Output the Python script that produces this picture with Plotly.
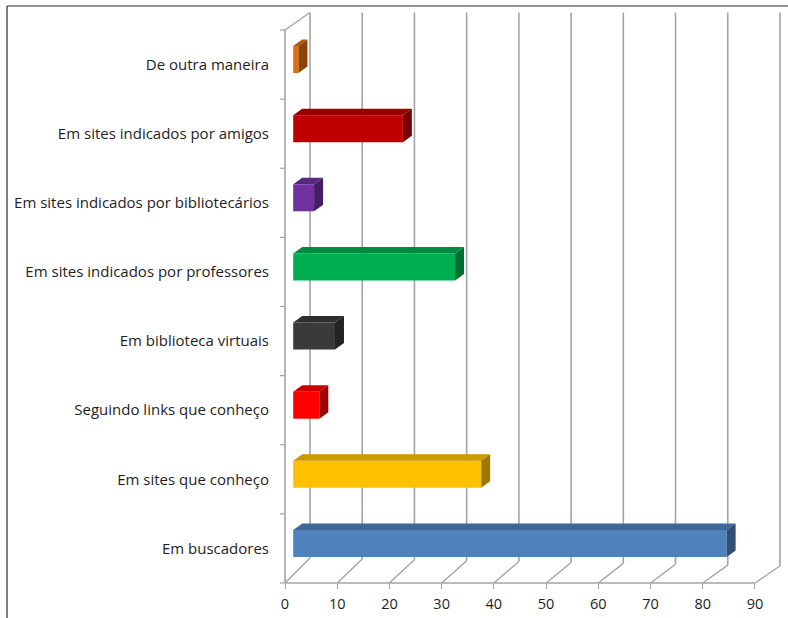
import plotly.graph_objects as go

# Survey answers, listed bottom to top
categories = [
    "Em buscadores",
    "Em sites que conheço",
    "Seguindo links que conheço",
    "Em biblioteca virtuais",
    "Em sites indicados por professores",
    "Em sites indicados por bibliotecários",
    "Em sites indicados por amigos",
    "De outra maneira",
]
values = [83, 36, 5, 8, 31, 4, 21, 1]
colors = ["#4F81BD", "#FFC000", "#FF0000", "#3A3A3A",
          "#00B050", "#7030A0", "#C00000", "#E46C0A"]
x_ticks = list(range(0, 100, 10))

# ---- page geometry (pixels) ----
W, H = 788, 618
PX = 5.222            # pixels per value unit
X0 = 285              # value 0 on the front plane
FLOOR = 583           # front floor edge
TOP = 30              # front top edge
BAND = (FLOOR - TOP) / len(categories)

def ux(p):            # horizontal pixel offset -> value units
    return p / PX

def uy(p):            # vertical pixel offset (upwards) -> category units
    return p / BAND

def row(py):          # absolute pixel row -> category units
    return (FLOOR - py) / BAND - 0.5

x_range = [-ux(X0), ux(W - X0)]
y_range = [row(H), row(0)]

# depth of the chart box
DEPTH_X = ux(25)
BACK_TOP = row(12.5)
def back_floor(v):    # back floor edge sinks slightly to the right
    return row(558 + v / 90 * 8)

GRID = "#A3A3A3"
shapes = []
# back wall gridlines and floor lines
for v in x_ticks:
    shapes.append(dict(type="line", xref="x", yref="y", layer="below",
                       x0=v + DEPTH_X, x1=v + DEPTH_X, y0=back_floor(v), y1=BACK_TOP,
                       line=dict(color=GRID, width=1.6)))
    shapes.append(dict(type="line", xref="x", yref="y", layer="below",
                       x0=v, x1=v + DEPTH_X, y0=-0.5, y1=back_floor(v),
                       line=dict(color=GRID, width=1.4)))
# front floor edge
shapes.append(dict(type="line", xref="x", yref="y", layer="below",
                   x0=0, x1=x_ticks[-1], y0=-0.5, y1=-0.5,
                   line=dict(color=GRID, width=1.4)))
# left wall
n = len(categories)
shapes.append(dict(type="line", xref="x", yref="y", layer="below",
                   x0=0, x1=0, y0=-0.5, y1=n - 0.5,
                   line=dict(color=GRID, width=1.6)))
shapes.append(dict(type="line", xref="x", yref="y", layer="below",
                   x0=0, x1=DEPTH_X, y0=n - 0.5, y1=BACK_TOP,
                   line=dict(color=GRID, width=1.4)))
# category boundary ticks on the left wall
for k in range(n + 1):
    shapes.append(dict(type="line", xref="x", yref="y", layer="below",
                       x0=-ux(5), x1=0, y0=k - 0.5, y1=k - 0.5,
                       line=dict(color=GRID, width=1.2)))
# frame of the chart area
shapes.append(dict(type="line", xref="paper", yref="paper",
                   x0=7 / W, x1=1, y0=1 - 6 / H, y1=1 - 6 / H,
                   line=dict(color="#6E6E6E", width=1.6)))
shapes.append(dict(type="line", xref="paper", yref="paper",
                   x0=7 / W, x1=7 / W, y0=0, y1=1 - 6 / H,
                   line=dict(color="#000000", width=1)))

# bar geometry inside the box
BAR_BASE = ux(8.2)
BAR_W = uy(27)
BAR_SHIFT = uy(5)
FACE_DX = ux(9)
FACE_DY = uy(6.5)

def shade(hex_color, f):
    r, g, b = (int(hex_color[i:i + 2], 16) for i in (1, 3, 5))
    return "#%02X%02X%02X" % (int(r * f), int(g * f), int(b * f))

fig = go.Figure()
idx = list(range(n))
fig.add_trace(go.Bar(
    y=idx, x=values, base=[BAR_BASE] * n, orientation="h",
    width=BAR_W, offset=BAR_SHIFT - BAR_W / 2,
    marker=dict(color=colors, line=dict(width=0)),
    hoverinfo="skip", showlegend=False,
))

# top and side faces of each bar
for i, (v, c) in enumerate(zip(values, colors)):
    xa = BAR_BASE
    xb = BAR_BASE + v
    yt = i + BAR_SHIFT + BAR_W / 2
    yb = i + BAR_SHIFT - BAR_W / 2
    fig.add_trace(go.Scatter(
        x=[xa, xb, xb + FACE_DX, xa + FACE_DX, xa],
        y=[yt, yt, yt + FACE_DY, yt + FACE_DY, yt],
        mode="lines", fill="toself", fillcolor=shade(c, 0.8),
        line=dict(width=0), hoverinfo="skip", showlegend=False))
    fig.add_trace(go.Scatter(
        x=[xb, xb + FACE_DX, xb + FACE_DX, xb, xb],
        y=[yb, yb + FACE_DY, yt + FACE_DY, yt, yb],
        mode="lines", fill="toself", fillcolor=shade(c, 0.62),
        line=dict(width=0), hoverinfo="skip", showlegend=False))

FONT = "'Open Sans', 'Noto Sans', sans-serif"
fig.update_layout(
    width=W, height=H, autosize=False,
    margin=dict(l=0, r=0, t=0, b=0),
    paper_bgcolor="white", plot_bgcolor="white",
    font=dict(family=FONT, size=15, color="#1E1E1E"),
    shapes=shapes,
    xaxis=dict(domain=[0, 1], range=x_range, anchor="free",
               position=(H - FLOOR) / H,
               tickmode="array", tickvals=x_ticks,
               ticks="outside", ticklen=5, tickcolor=GRID, tickwidth=1.4,
               ticklabelstandoff=3, tickfont=dict(size=14.5),
               showgrid=False, zeroline=False, showline=False, fixedrange=True),
    yaxis=dict(domain=[0, 1], range=y_range, anchor="free",
               position=X0 / W,
               tickmode="array", tickvals=idx, ticktext=categories,
               ticks="", ticklabelstandoff=16, tickfont=dict(size=15),
               showgrid=False, zeroline=False, showline=False, fixedrange=True),
)

fig.write_html("out.html")
